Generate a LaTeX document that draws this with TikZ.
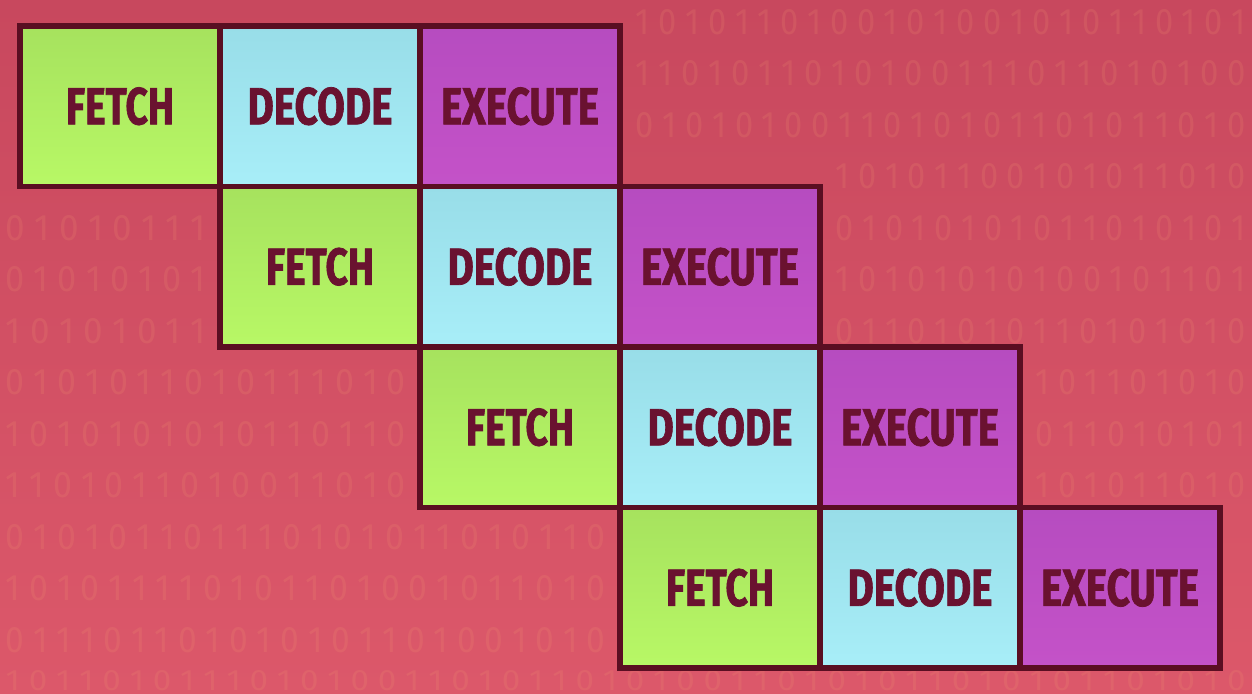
\documentclass[tikz,border=0pt]{standalone}
\usepackage{fontspec}
\newfontfamily\lbl{Fira Sans}[BoldFeatures={FakeBold=1.5}]
\definecolor{bgtop}{HTML}{C8485E}
\definecolor{bgbot}{HTML}{DC586A}
\definecolor{edge}{HTML}{5A0E22}
\definecolor{ink}{HTML}{6A1230}
\definecolor{fetchA}{HTML}{A6E25E}
\definecolor{fetchB}{HTML}{B8F866}
\definecolor{decA}{HTML}{98DDE8}
\definecolor{decB}{HTML}{A8EEF8}
\definecolor{exeA}{HTML}{B64CC0}
\definecolor{exeB}{HTML}{C452C8}
\definecolor{digit}{HTML}{F39A70}
\tikzset{
  stage/.style={draw=edge, line width=1.5pt, minimum width=2cm, minimum height=1.605cm, inner sep=0pt, text=ink},
  fetchbox/.style={stage, top color=fetchA, bottom color=fetchB},
  decbox/.style={stage, top color=decA, bottom color=decB},
  exebox/.style={stage, top color=exeA, bottom color=exeB},
  bits/.style={text=digit, opacity=0.17, anchor=west, inner sep=0pt},
}
\newcommand\stageword[2]{\resizebox{#1}{0.37cm}{\lbl\bfseries #2}}
\newcommand\bitstr[2]{\resizebox{#1}{0.25cm}{\lbl #2}}
\begin{document}
\begin{tikzpicture}
\useasboundingbox (0,0) rectangle (12.52,-6.94);
\fill[top color=bgtop, bottom color=bgbot] (0,0) rectangle (12.52,-6.94);
% faint binary texture (right of the staircase)
\node[bits] (r0) at (6.35,-0.22) {\bitstr{6.1cm}{1 0 1 0 1 1 0 1 0 0 1 0 1 0 0 1 0 1 0 1 1 0 1 0 1}};
\node[bits] (r1) at (6.35,-0.735) {\bitstr{6.1cm}{1 1 0 1 0 1 1 0 1 0 1 0 0 1 1 1 0 1 1 0 1 0 1 0 0}};
\node[bits] (r2) at (6.35,-1.25) {\bitstr{6.1cm}{0 1 0 1 0 1 0 0 1 1 0 1 0 1 0 1 1 0 1 0 1 1 0 1 0}};
\node[bits] (r3) at (8.35,-1.765) {\bitstr{4.1cm}{1 0 1 0 1 1 0 0 1 0 1 0 1 1 0 1 0}};
\node[bits] (r4) at (8.35,-2.28) {\bitstr{4.1cm}{0 1 0 1 0 1 0 1 0 1 1 0 1 0 1 0 1}};
\node[bits] (r5) at (8.35,-2.795) {\bitstr{4.1cm}{1 0 1 0 1 0 1 0 1 0 0 1 0 1 1 0 1}};
\node[bits] (r6) at (8.35,-3.31) {\bitstr{4.1cm}{0 1 1 0 1 0 1 0 1 1 0 1 0 1 0 1 0}};
\node[bits] (r7) at (10.35,-3.825) {\bitstr{2.1cm}{1 0 1 1 0 1 0 1 0}};
\node[bits] (r8) at (10.35,-4.34) {\bitstr{2.1cm}{0 1 1 0 1 0 1 0 1}};
\node[bits] (r9) at (10.35,-4.855) {\bitstr{2.1cm}{1 0 1 0 1 1 0 1 0}};
% faint binary texture (left of the staircase)
\node[bits] (l4) at (0.05,-2.28) {\bitstr{2.0cm}{0 1 0 1 0 1 1 1}};
\node[bits] (l5) at (0.05,-2.795) {\bitstr{2.0cm}{0 1 0 1 0 1 0 1}};
\node[bits] (l6) at (0.05,-3.31) {\bitstr{2.0cm}{1 0 1 0 1 0 1 1}};
\node[bits] (l7) at (0.05,-3.825) {\bitstr{4.0cm}{0 1 0 1 0 1 1 0 1 0 1 1 1 0 1 0}};
\node[bits] (l8) at (0.05,-4.34) {\bitstr{4.0cm}{1 0 1 0 1 0 1 0 1 0 1 1 0 1 1 0}};
\node[bits] (l9) at (0.05,-4.855) {\bitstr{4.0cm}{1 1 0 1 0 1 1 0 1 0 0 1 1 0 1 0}};
\node[bits] (l10) at (0.05,-5.37) {\bitstr{6.0cm}{0 1 0 1 0 1 1 0 1 1 1 0 1 0 1 0 1 1 0 1 0 1 1 0}};
\node[bits] (l11) at (0.05,-5.885) {\bitstr{6.0cm}{1 0 1 0 1 1 1 1 0 1 0 1 1 0 1 0 0 1 0 1 1 0 1 0}};
\node[bits] (l12) at (0.05,-6.40) {\bitstr{6.0cm}{0 1 1 1 0 1 1 0 1 0 1 0 1 0 1 1 0 1 0 0 1 0 1 0}};
\node[bits] (l13) at (0.05,-6.81) {\resizebox{12.4cm}{0.2cm}{\lbl 1 0 1 1 0 1 0 1 1 1 0 1 0 1 0 0 1 1 0 1 0 1 1 0 1 0 1 0 0 1 1 0 1 0 1 0 1 1 0 1 0 1 0 1 1 0 1 0 1 0}};
% pipeline stages
\foreach \r in {0,1,2,3} {
  \node[fetchbox] (f\r) at ({1.2+2*\r}, {-(1.0625+1.605*\r)}) {\stageword{1.08cm}{FETCH}};
  \node[decbox]   (d\r) at ({3.2+2*\r}, {-(1.0625+1.605*\r)}) {\stageword{1.45cm}{DECODE}};
  \node[exebox]   (e\r) at ({5.2+2*\r}, {-(1.0625+1.605*\r)}) {\stageword{1.58cm}{EXECUTE}};
}
\end{tikzpicture}
\end{document}
